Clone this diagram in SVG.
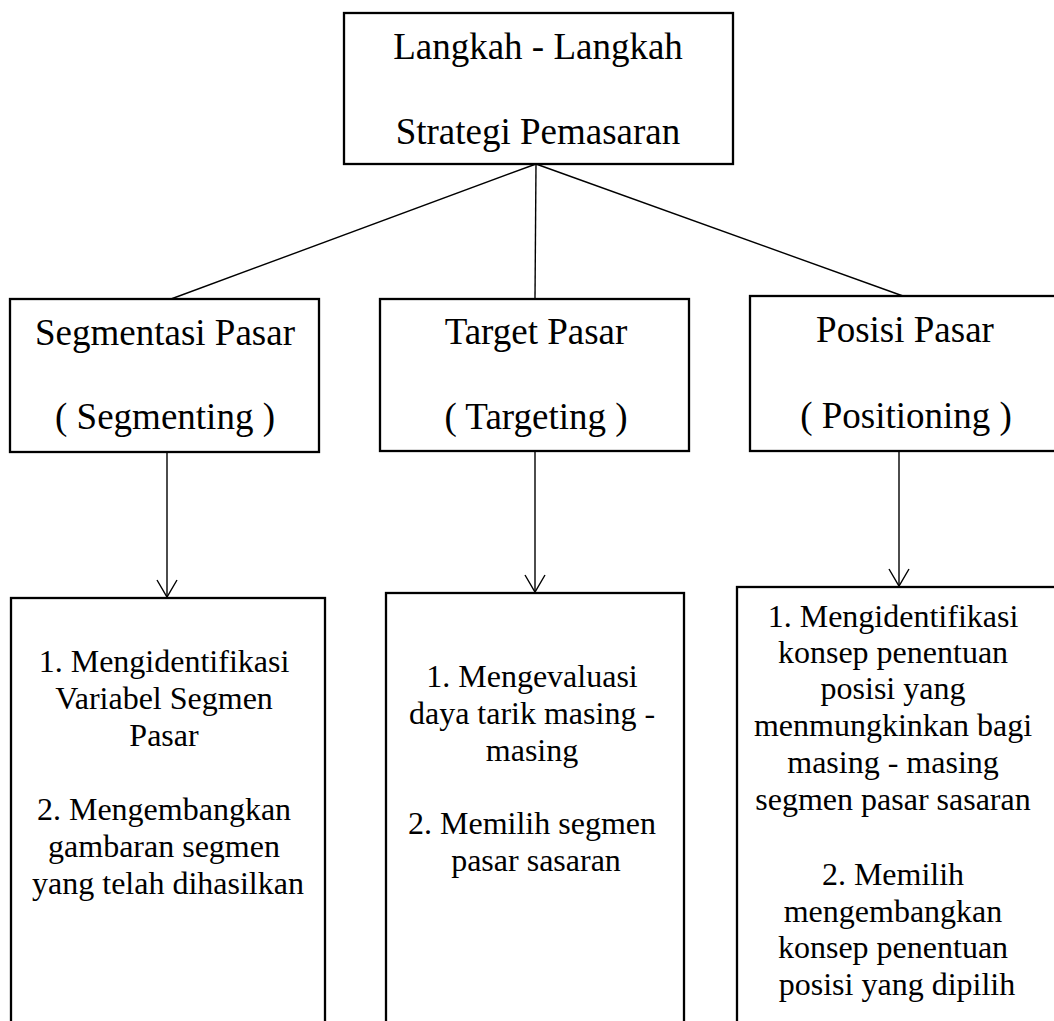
<svg xmlns="http://www.w3.org/2000/svg" width="1054" height="1021" viewBox="0 0 1054 1021">
<defs>
<style>
.box{fill:#fff;stroke:#000;stroke-width:2.3}
.t{font-family:"Liberation Serif","Times New Roman",serif;fill:#000;text-anchor:middle}
.big{font-size:37px}
.sm{font-size:32px}
.ln{stroke:#000;stroke-width:1.4;fill:none}
</style>
<marker id="arr" markerUnits="userSpaceOnUse" markerWidth="24" markerHeight="24" refX="18" refY="11" orient="auto" viewBox="0 0 24 22">
<path d="M1,1 L18,11 L1,21" fill="none" stroke="#000" stroke-width="1.4"/>
</marker>
</defs>
<rect width="1054" height="1021" fill="#fff"/>
<g id="connectors">
<line class="ln" x1="536" y1="164" x2="171" y2="299"/>
<line class="ln" x1="536" y1="164" x2="535" y2="299"/>
<line class="ln" x1="536" y1="164" x2="903" y2="296"/>
<line class="ln" x1="167" y1="452" x2="167" y2="597" marker-end="url(#arr)"/>
<line class="ln" x1="535" y1="451" x2="535" y2="592" marker-end="url(#arr)"/>
<line class="ln" x1="899" y1="451" x2="899" y2="586" marker-end="url(#arr)"/>
</g>
<g id="root">
<rect class="box" x="344" y="13" width="389" height="151"/>
<text class="t big" x="538" y="59">Langkah - Langkah</text>
<text class="t big" x="538" y="144">Strategi Pemasaran</text>
</g>
<g id="segmentasi">
<rect class="box" x="10" y="299" width="309" height="153"/>
<text class="t big" x="165" y="345">Segmentasi Pasar</text>
<text class="t big" x="165" y="429">( Segmenting )</text>
</g>
<g id="target">
<rect class="box" x="380" y="299" width="309" height="152"/>
<text class="t big" x="536" y="344">Target Pasar</text>
<text class="t big" x="536" y="429">( Targeting )</text>
</g>
<g id="posisi">
<rect class="box" x="750" y="296" width="312" height="155"/>
<text class="t big" x="905" y="342">Posisi Pasar</text>
<text class="t big" x="906" y="428">( Positioning )</text>
</g>
<g id="segmentasi-steps">
<rect class="box" x="11" y="598" width="314" height="440"/>
<text class="t sm" x="168">
<tspan x="168" y="672">1. Mengidentifikasi</tspan>
<tspan x="168" y="709">Variabel Segmen</tspan>
<tspan x="168" y="746">Pasar</tspan>
<tspan x="168" y="820">2. Mengembangkan</tspan>
<tspan x="168" y="857">gambaran segmen</tspan>
<tspan x="168" y="894">yang telah dihasilkan</tspan>
</text>
</g>
<g id="target-steps">
<rect class="box" x="386" y="593" width="298" height="445"/>
<text class="t sm" x="536">
<tspan x="536" y="687">1. Mengevaluasi</tspan>
<tspan x="536" y="724">daya tarik masing -</tspan>
<tspan x="536" y="761">masing</tspan>
<tspan x="536" y="834">2. Memilih segmen</tspan>
<tspan x="536" y="871">pasar sasaran</tspan>
</text>
</g>
<g id="posisi-steps">
<rect class="box" x="737" y="587" width="322" height="451"/>
<text class="t sm" x="897">
<tspan x="897" y="627">1. Mengidentifikasi</tspan>
<tspan x="897" y="663">konsep penentuan</tspan>
<tspan x="897" y="699">posisi yang</tspan>
<tspan x="897" y="736">menmungkinkan bagi</tspan>
<tspan x="897" y="773">masing - masing</tspan>
<tspan x="897" y="810">segmen pasar sasaran</tspan>
<tspan x="897" y="885">2. Memilih</tspan>
<tspan x="897" y="922">mengembangkan</tspan>
<tspan x="897" y="958">konsep penentuan</tspan>
<tspan x="897" y="995">posisi yang dipilih</tspan>
</text>
</g>
</svg>
